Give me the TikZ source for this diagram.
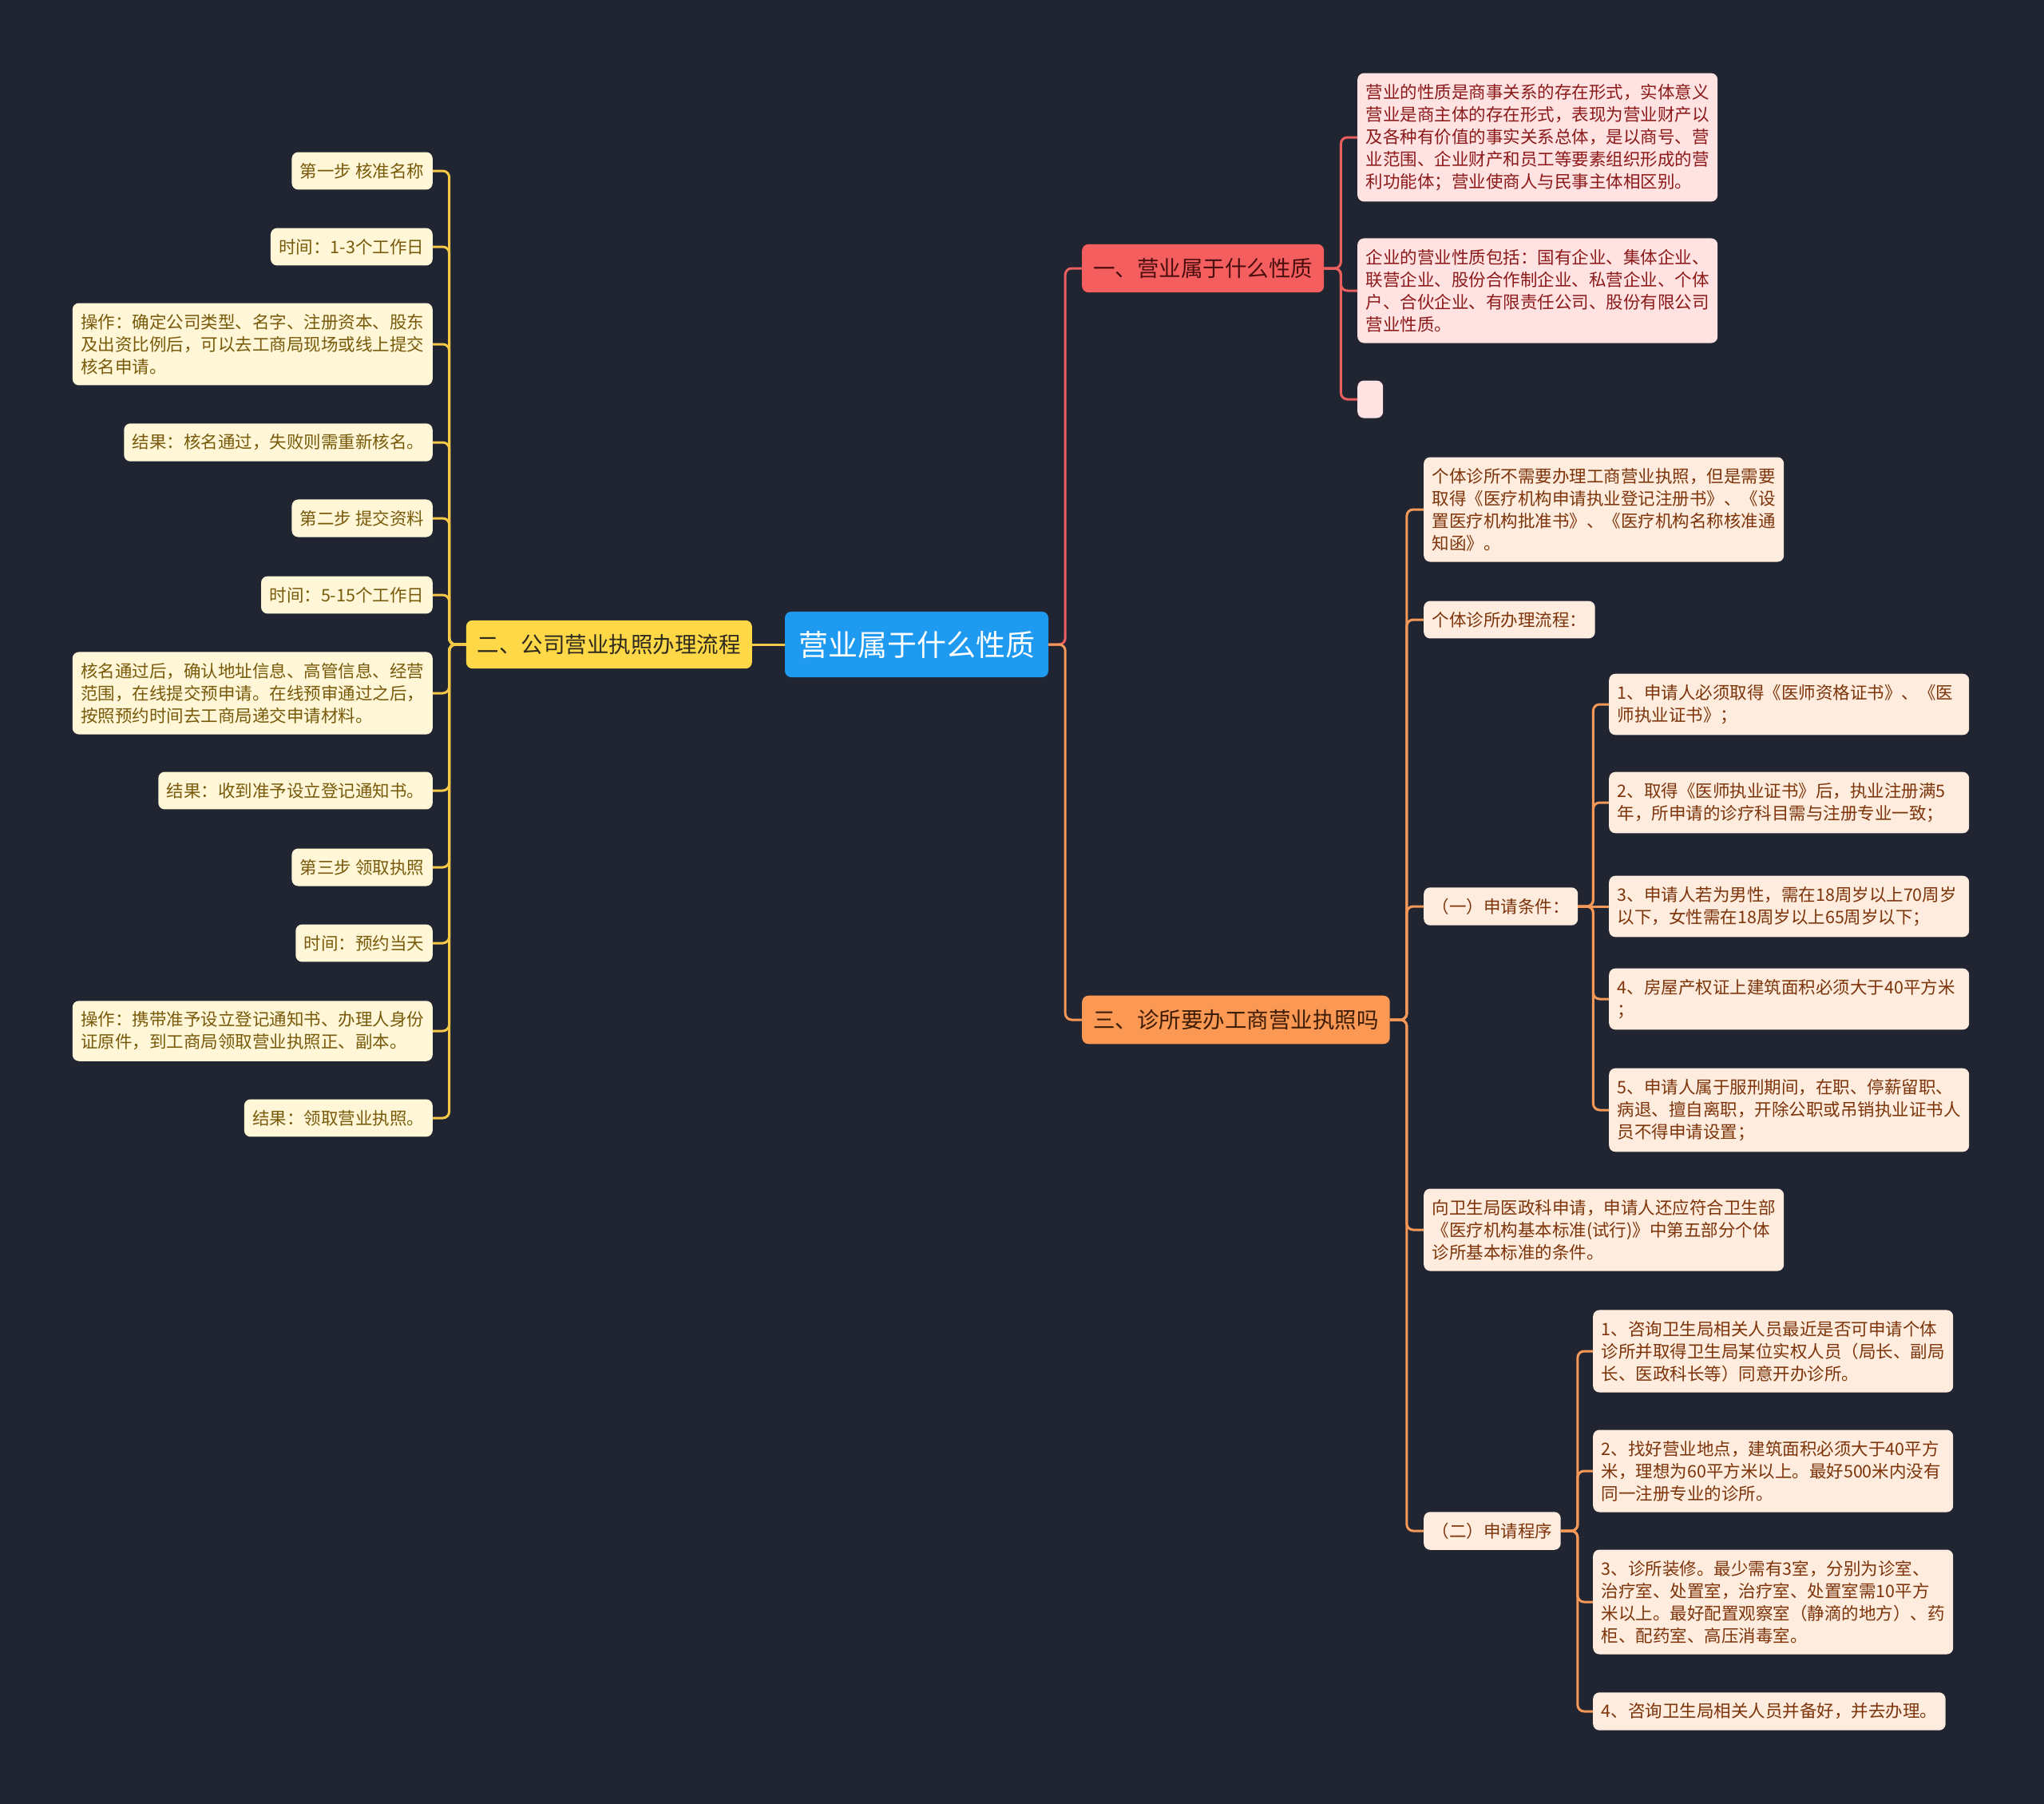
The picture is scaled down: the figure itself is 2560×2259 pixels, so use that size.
\documentclass[tikz,border=0pt]{standalone}
\usepackage{fontspec}
\setmainfont{Noto Sans CJK SC}
\definecolor{bgnavy}{RGB}{33,37,49}
\definecolor{rootblue}{RGB}{30,154,240}
\definecolor{twofill}{RGB}{255,216,72}
\definecolor{twoline}{RGB}{245,200,72}
\definecolor{twoleaf}{RGB}{255,247,216}
\definecolor{twotext}{RGB}{120,90,10}
\definecolor{onefill}{RGB}{245,94,94}
\definecolor{oneline}{RGB}{235,96,94}
\definecolor{oneleaf}{RGB}{255,226,226}
\definecolor{onetext}{RGB}{140,26,26}
\definecolor{threefill}{RGB}{250,152,84}
\definecolor{threeline}{RGB}{245,152,88}
\definecolor{threeleaf}{RGB}{254,236,222}
\definecolor{threetext}{RGB}{125,52,10}
\begin{document}
\begin{tikzpicture}[x=1pt,y=-1pt,
    root/.style={rounded corners=8pt, fill=rootblue, text=white, inner xsep=17pt, inner ysep=24pt, font=\fontsize{37}{44}\selectfont},
    branch/.style={rounded corners=8pt, inner xsep=14pt, inner ysep=17.5pt, font=\fontsize{27.5}{33}\selectfont},
    leaf/.style={rounded corners=8pt, inner xsep=10.5pt, inner ysep=13.5pt, font=\fontsize{21.5}{28}\selectfont},
    wide/.style={text width=430pt, align=left},
    twoleafbox/.style={leaf, fill=twoleaf, text=twotext},
    oneleafbox/.style={leaf, fill=oneleaf, text=onetext},
    threeleafbox/.style={leaf, fill=threeleaf, text=threetext},
    twolink/.style={draw=twoline, line width=3pt, rounded corners=8pt},
    onelink/.style={draw=oneline, line width=3pt, rounded corners=8pt},
    threelink/.style={draw=threeline, line width=3pt, rounded corners=8pt}]
    \fill[bgnavy] (0,0) rectangle (2560,2259);
    \useasboundingbox (0,0) rectangle (2560,2259);
    % root and main branches
    \node[root] (root) at (1148,807) {营业属于什么性质};
    \node[branch, fill=twofill, text={rgb,255:red,46;green,42;blue,30}, anchor=east] (two) at (942,807) {二、公司营业执照办理流程};
    \node[branch, fill=onefill, text={rgb,255:red,74;green,14;blue,14}, anchor=west] (one) at (1355,336) {一、营业属于什么性质};
    \node[branch, fill=threefill, text={rgb,255:red,61;green,28;blue,5}, anchor=west] (three) at (1355,1277) {三、诊所要办工商营业执照吗};
    % left side leaves
    \node[twoleafbox, anchor=east] (l1) at (542,214) {第一步 核准名称};
    \node[twoleafbox, anchor=east] (l2) at (542,309) {时间：1-3个工作日};
    \node[twoleafbox, wide, anchor=east] (l3) at (542,431) {操作：确定公司类型、名字、注册资本、股东\\及出资比例后，可以去工商局现场或线上提交\\核名申请。};
    \node[twoleafbox, anchor=east] (l4) at (542,554) {结果：核名通过，失败则需重新核名。};
    \node[twoleafbox, anchor=east] (l5) at (542,649) {第二步 提交资料};
    \node[twoleafbox, anchor=east] (l6) at (542,745) {时间：5-15个工作日};
    \node[twoleafbox, wide, anchor=east] (l7) at (542,868) {核名通过后，确认地址信息、高管信息、经营\\范围，在线提交预申请。在线预审通过之后，\\按照预约时间去工商局递交申请材料。};
    \node[twoleafbox, anchor=east] (l8) at (542,990) {结果：收到准予设立登记通知书。};
    \node[twoleafbox, anchor=east] (l9) at (542,1086) {第三步 领取执照};
    \node[twoleafbox, anchor=east] (l10) at (542,1181) {时间：预约当天};
    \node[twoleafbox, wide, anchor=east] (l11) at (542,1291) {操作：携带准予设立登记通知书、办理人身份\\证原件，到工商局领取营业执照正、副本。};
    \node[twoleafbox, anchor=east] (l12) at (542,1400) {结果：领取营业执照。};
    % upper right leaves
    \node[oneleafbox, wide, anchor=west] (r1) at (1700,172) {营业的性质是商事关系的存在形式，实体意义\\营业是商主体的存在形式，表现为营业财产以\\及各种有价值的事实关系总体，是以商号、营\\业范围、企业财产和员工等要素组织形成的营\\利功能体；营业使商人与民事主体相区别。};
    \node[oneleafbox, wide, anchor=west] (r2) at (1700,364) {企业的营业性质包括：国有企业、集体企业、\\联营企业、股份合作制企业、私营企业、个体\\户、合伙企业、有限责任公司、股份有限公司\\营业性质。};
    \node[oneleafbox, inner sep=0pt, minimum width=32pt, minimum height=47pt, anchor=west] (r3) at (1700,500) {};
    % lower right leaves
    \node[threeleafbox, wide, anchor=west] (o1) at (1783,638) {个体诊所不需要办理工商营业执照，但是需要\\取得《医疗机构申请执业登记注册书》、《设\\置医疗机构批准书》、《医疗机构名称核准通\\知函》。};
    \node[threeleafbox, anchor=west] (o2) at (1783,776) {个体诊所办理流程：};
    \node[threeleafbox, anchor=west] (o3) at (1783,1135) {（一）申请条件：};
    \node[threeleafbox, wide, anchor=west] (o4) at (1783,1540) {向卫生局医政科申请，申请人还应符合卫生部\\《医疗机构基本标准(试行)》中第五部分个体\\诊所基本标准的条件。};
    \node[threeleafbox, anchor=west] (o5) at (1783,1917) {（二）申请程序};
    \node[threeleafbox, wide, anchor=west] (c1) at (2015,882) {1、申请人必须取得《医师资格证书》、《医\\师执业证书》；};
    \node[threeleafbox, wide, anchor=west] (c2) at (2015,1005) {2、取得《医师执业证书》后，执业注册满5\\年，所申请的诊疗科目需与注册专业一致；};
    \node[threeleafbox, wide, anchor=west] (c3) at (2015,1135) {3、申请人若为男性，需在18周岁以上70周岁\\以下，女性需在18周岁以上65周岁以下；};
    \node[threeleafbox, wide, anchor=west] (c4) at (2015,1251) {4、房屋产权证上建筑面积必须大于40平方米\\；};
    \node[threeleafbox, wide, anchor=west] (c5) at (2015,1390) {5、申请人属于服刑期间，在职、停薪留职、\\病退、擅自离职，开除公职或吊销执业证书人\\员不得申请设置；};
    \node[threeleafbox, wide, anchor=west] (p1) at (1995,1692) {1、咨询卫生局相关人员最近是否可申请个体\\诊所并取得卫生局某位实权人员（局长、副局\\长、医政科长等）同意开办诊所。};
    \node[threeleafbox, wide, anchor=west] (p2) at (1995,1842) {2、找好营业地点，建筑面积必须大于40平方\\米，理想为60平方米以上。最好500米内没有\\同一注册专业的诊所。};
    \node[threeleafbox, wide, anchor=west] (p3) at (1995,2006) {3、诊所装修。最少需有3室，分别为诊室、\\治疗室、处置室，治疗室、处置室需10平方\\米以上。最好配置观察室（静滴的地方）、药\\柜、配药室、高压消毒室。};
    \node[threeleafbox, anchor=west] (p4) at (1995,2143) {4、咨询卫生局相关人员并备好，并去办理。};
    % links from the root
    \draw[twolink] (root.west) -- (two.east);
    \draw[onelink] (root.east) -- ++(21,0) |- (one.west);
    \draw[threelink] (root.east) -- ++(21,0) |- (three.west);
    % links on the left
    \draw[twolink] (two.west) -- ++(-21,0) |- (l1.east);
    \draw[twolink] (two.west) -- ++(-21,0) |- (l2.east);
    \draw[twolink] (two.west) -- ++(-21,0) |- (l3.east);
    \draw[twolink] (two.west) -- ++(-21,0) |- (l4.east);
    \draw[twolink] (two.west) -- ++(-21,0) |- (l5.east);
    \draw[twolink] (two.west) -- ++(-21,0) |- (l6.east);
    \draw[twolink] (two.west) -- ++(-21,0) |- (l7.east);
    \draw[twolink] (two.west) -- ++(-21,0) |- (l8.east);
    \draw[twolink] (two.west) -- ++(-21,0) |- (l9.east);
    \draw[twolink] (two.west) -- ++(-21,0) |- (l10.east);
    \draw[twolink] (two.west) -- ++(-21,0) |- (l11.east);
    \draw[twolink] (two.west) -- ++(-21,0) |- (l12.east);
    % links upper right
    \draw[onelink] (one.east) -- ++(21,0) |- (r1.west);
    \draw[onelink] (one.east) -- ++(21,0) |- (r2.west);
    \draw[onelink] (one.east) -- ++(21,0) |- (r3.west);
    % links lower right
    \draw[threelink] (three.east) -- ++(21,0) |- (o1.west);
    \draw[threelink] (three.east) -- ++(21,0) |- (o2.west);
    \draw[threelink] (three.east) -- ++(21,0) |- (o3.west);
    \draw[threelink] (three.east) -- ++(21,0) |- (o4.west);
    \draw[threelink] (three.east) -- ++(21,0) |- (o5.west);
    \draw[threelink] (o3.east) -- ++(19,0) |- (c1.west);
    \draw[threelink] (o3.east) -- ++(19,0) |- (c2.west);
    \draw[threelink] (o3.east) -- (c3.west);
    \draw[threelink] (o3.east) -- ++(19,0) |- (c4.west);
    \draw[threelink] (o3.east) -- ++(19,0) |- (c5.west);
    \draw[threelink] (o5.east) -- ++(21,0) |- (p1.west);
    \draw[threelink] (o5.east) -- ++(21,0) |- (p2.west);
    \draw[threelink] (o5.east) -- ++(21,0) |- (p3.west);
    \draw[threelink] (o5.east) -- ++(21,0) |- (p4.west);
\end{tikzpicture}
\end{document}
